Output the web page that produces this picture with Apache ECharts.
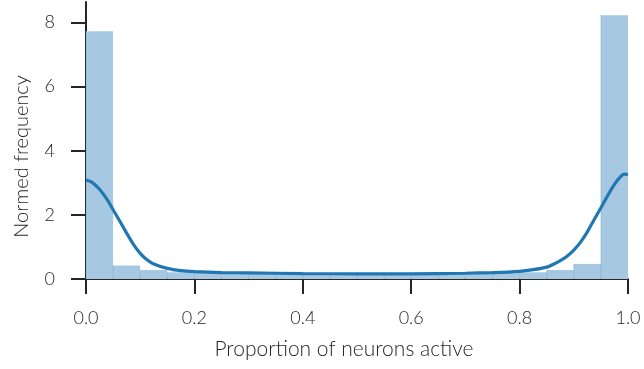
<!DOCTYPE html>
<html>
<head>
<meta charset="utf-8">
<script src="https://cdn.jsdelivr.net/npm/echarts@6/dist/echarts.min.js"></script>
<style>
  html, body { margin: 0; padding: 0; background: #fff; }
  #chart { width: 644px; height: 369px; }
</style>
</head>
<body>
<div id="chart"></div>
<script>
// histogram bins (left / right edge) and their normed heights
var binStart = [0, 0.05, 0.1, 0.15, 0.2, 0.25, 0.3, 0.35, 0.4, 0.45, 0.5, 0.55, 0.6, 0.65, 0.7, 0.75, 0.8, 0.85, 0.9, 0.95]
var binEnd = [0.05, 0.1, 0.15, 0.2, 0.25, 0.3, 0.35, 0.4, 0.45, 0.5, 0.55, 0.6, 0.65, 0.7, 0.75, 0.8, 0.85, 0.9, 0.95, 1.0]
var binHeight = [7.73, 0.42, 0.28, 0.21, 0.19, 0.18, 0.17, 0.16, 0.16, 0.15, 0.15, 0.16, 0.16, 0.17, 0.18, 0.19, 0.21, 0.28, 0.47, 8.23]

// kde curve
var kdeX = [0, 0.01, 0.025, 0.04, 0.05, 0.0625, 0.075, 0.0875, 0.1, 0.1125, 0.125, 0.15, 0.175, 0.2, 0.25, 0.3, 0.4, 0.5, 0.6, 0.7, 0.75, 0.8, 0.825, 0.85, 0.8625, 0.875, 0.8875, 0.9, 0.9125, 0.925, 0.9375, 0.95, 0.9625, 0.975, 0.985, 0.993, 1.0]
var kdeY = [3.09, 3.03, 2.8, 2.45, 2.16, 1.8, 1.43, 1.08, 0.8, 0.6, 0.47, 0.33, 0.26, 0.23, 0.2, 0.19, 0.17, 0.16, 0.16, 0.18, 0.2, 0.24, 0.29, 0.37, 0.46, 0.57, 0.71, 0.9, 1.15, 1.47, 1.85, 2.22, 2.6, 2.95, 3.17, 3.27, 3.26]

var xTicks = [0, 0.2, 0.4, 0.6, 0.8, 1.0]
var yTicks = [0, 2, 4, 6, 8]

var font = 'Lato'
var ink = '#262626'

var histData = binStart.map(function (s, i) {
    return [s, binEnd[i], binHeight[i]]
})
var kdeData = kdeX.map(function (x, i) {
    return [x, kdeY[i]]
})

var chart = echarts.init(document.getElementById('chart'))
chart.setOption({
    animation: false,
    grid: {
        left: 86,
        right: 16,
        top: 2,
        bottom: 90
    },
    xAxis: {
        type: 'value',
        min: 0,
        max: 1,
        interval: 0.2,
        name: 'Proportion of neurons active',
        nameLocation: 'middle',
        nameGap: 60,
        nameTextStyle: {
            fontFamily: font,
            fontWeight: 300,
            fontSize: 21,
            color: ink,
            padding: [0, 26, 0, 0]
        },
        axisLine: { lineStyle: { color: ink, width: 2 } },
        axisTick: { length: 15, lineStyle: { color: ink, width: 2 } },
        axisLabel: {
            margin: 30,
            fontFamily: font,
            fontWeight: 300,
            fontSize: 18,
            color: ink,
            formatter: function (v) { return v.toFixed(1) }
        },
        splitLine: { show: false }
    },
    yAxis: {
        type: 'value',
        min: 0,
        max: 8.64,
        name: 'Normed frequency',
        nameLocation: 'middle',
        nameGap: 54,
        nameTextStyle: {
            fontFamily: font,
            fontWeight: 300,
            fontSize: 20,
            color: ink,
            padding: [0, 32, 0, 0]
        },
        axisLine: { show: true, lineStyle: { color: ink, width: 2 } },
        axisTick: { show: true, length: 15, customValues: yTicks, lineStyle: { color: ink, width: 2 } },
        axisLabel: {
            margin: 31,
            customValues: yTicks,
            fontFamily: font,
            fontWeight: 300,
            fontSize: 18,
            color: ink
        },
        splitLine: { show: false }
    },
    series: [
        {
            type: 'custom',
            data: histData,
            encode: { x: [0, 1], y: 2 },
            renderItem: function (params, api) {
                var top = api.coord([api.value(0), api.value(2)])
                var bottom = api.coord([api.value(1), 0])
                return {
                    type: 'group',
                    children: [
                        {
                            type: 'rect',
                            shape: {
                                x: top[0],
                                y: top[1],
                                width: bottom[0] - top[0],
                                height: bottom[1] - top[1]
                            },
                            style: { fill: '#a6c8e1' }
                        },
                        {
                            type: 'line',
                            shape: { x1: top[0], y1: top[1], x2: top[0], y2: bottom[1] },
                            style: { stroke: 'rgba(31,119,180,0.22)', lineWidth: 1 }
                        }
                    ]
                }
            },
            z: 1
        },
        {
            type: 'line',
            data: kdeData,
            smooth: 0.2,
            showSymbol: false,
            lineStyle: { color: '#1f77b4', width: 3.2 },
            z: 3
        }
    ]
})
</script>
</body>
</html>
